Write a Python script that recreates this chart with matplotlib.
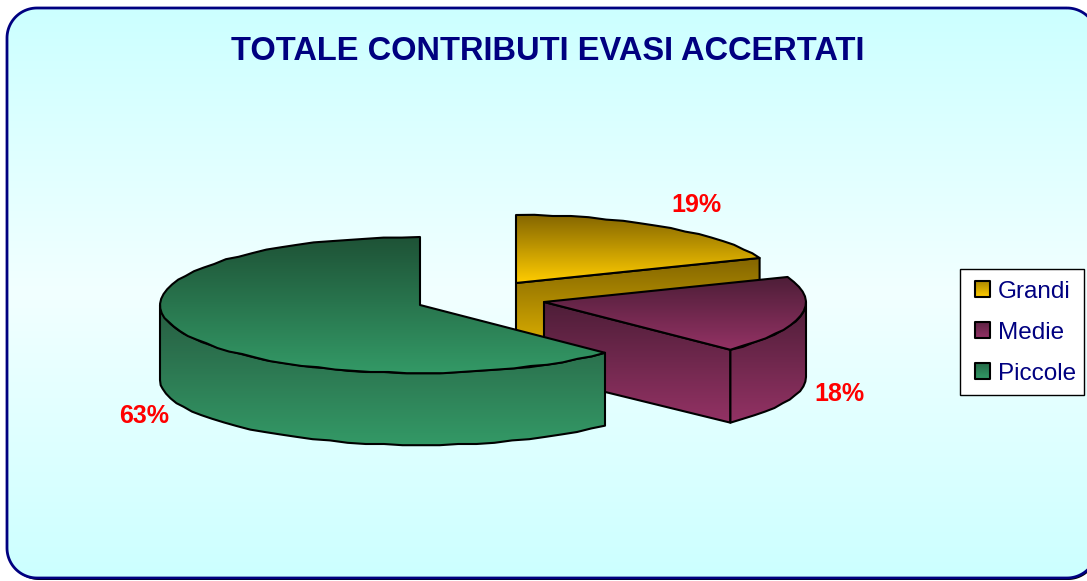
import numpy as np
import matplotlib
matplotlib.use("Agg")
import matplotlib.pyplot as plt
from matplotlib.colors import LinearSegmentedColormap
from matplotlib.patches import Polygon, Patch, Rectangle

TITLE = "TOTALE CONTRIBUTI EVASI ACCERTATI"
categories = ["Grandi", "Medie", "Piccole"]
shares = [19.0, 18.4, 62.6]
labels = ["19%", "18%", "63%"]

W, H = 1087, 581
plt.rcParams['font.family'] = ['Liberation Sans', 'DejaVu Sans']
fig = plt.figure(figsize=(W / 100, H / 100), dpi=100, facecolor="white")
ax = fig.add_axes([0, 0, 1, 1])
ax.set_xlim(0, W)
ax.set_ylim(H, 0)
ax.axis("off")

NAVY = "#000080"


def rounded_rect(x0, y0, x1, y1, r, n=24):
    """Rounded rectangle as a plain outline of straight segments."""
    corners = [(x1 - r, y0 + r, -90, 0), (x1 - r, y1 - r, 0, 90),
               (x0 + r, y1 - r, 90, 180), (x0 + r, y0 + r, 180, 270)]
    pts = []
    for cx, cy, a, b in corners:
        t = np.radians(np.linspace(a, b, n))
        pts.append(np.column_stack([cx + r * np.cos(t), cy + r * np.sin(t)]))
    return np.vstack(pts)


# bottom-right shadow and bottom lip
ax.add_patch(Polygon(rounded_rect(9, 11, 1098, 580, 30), closed=True, fc="black", ec="none", zorder=0))

outline = rounded_rect(7, 8, 1097, 578, 30)
panel = Polygon(outline, closed=True, fc="none", ec=NAVY, lw=2.0, zorder=3)
ax.add_patch(panel)
bg = LinearSegmentedColormap.from_list("bg", ["#CCFFFF", "#F2FFFF", "#CCFFFF"])
im = ax.imshow(np.linspace(0, 1, 256)[:, None], cmap=bg, extent=(7, 1097, 578, 8),
               aspect="auto", zorder=1)
im.set_clip_path(panel)
ax.set_xlim(0, W)
ax.set_ylim(H, 0)


def grad_poly(pts, c_top, c_bottom, z, lw=1.5):
    pts = np.asarray(pts)
    cmap = LinearSegmentedColormap.from_list("g", [c_top, c_bottom])
    x0, x1 = pts[:, 0].min(), pts[:, 0].max()
    y0, y1 = pts[:, 1].min(), pts[:, 1].max()
    poly = Polygon(pts, closed=True, fc="none", ec="black", lw=lw, joinstyle="round", zorder=z + 0.1)
    ax.add_patch(poly)
    i = ax.imshow(np.linspace(0, 1, 128)[:, None], cmap=cmap, extent=(x0, x1, y1, y0),
                  aspect="auto", zorder=z, interpolation="bilinear")
    i.set_clip_path(poly)


def arc(cx, cy, rx, ry, a0, a1, step=4):
    """Angles in degrees, clockwise from 12 o'clock; y is lightly stepped like the coarse source outline."""
    n = max(2, int(abs(a1 - a0) / step) + 1)
    t = np.radians(np.linspace(a0, a1, n))
    y = cy - ry * np.cos(t)
    y[1:-1] = np.round(y[1:-1] / 1.2) * 1.2
    return np.column_stack([cx + rx * np.sin(t), y])


RXS = [262, 262, 260]
RY = 68
DEPTH, RY_B = 75, 65
centers = [(516, 283), (544, 302), (420, 305)]
top_cols = [("#836500", "#FFCC00"), ("#4E1E38", "#933264"), ("#1E5236", "#339966")]
wall_cols = [("#836500", "#E6B800"), ("#4E1E38", "#933264"), ("#275C41", "#339966")]

edges = np.concatenate([[0], np.cumsum(shares)]) * 3.6
for k in range(3):
    cx, cy = centers[k]
    RX = RXS[k]
    a0, a1 = edges[k], edges[k + 1]
    z = 10 + k * 3
    if k < 2:
        # radial front wall at the trailing edge
        e_top = arc(cx, cy, RX, RY, a1, a1, 1)[0]
        e_bot = arc(cx, cy + DEPTH, RX, RY_B, a1, a1, 1)[0]
        grad_poly([(cx, cy), e_top, e_bot, (cx, cy + DEPTH)], *wall_cols[k], z)
    # outer wall, visible part of the rim only
    v0, v1 = max(a0, 90), min(a1, 270)
    if v1 > v0:
        t = arc(cx, cy, RX, RY, v0, v1)
        b = arc(cx, cy + DEPTH, RX, RY_B, v0, v1)
        grad_poly(np.vstack([t, b[::-1]]), *wall_cols[k], z + 1)
    # top face
    grad_poly(np.vstack([[(cx, cy)], arc(cx, cy, RX, RY, a0, a1)]), *top_cols[k], z + 2)

# value labels
label_pos = [(696, 205), (839, 394), (144, 416)]
for s, (x, y) in zip(labels, label_pos):
    ax.text(x, y, s, color="#FF0000", fontsize=18, fontweight="bold",
            ha="center", va="center", zorder=30)

ax.text(547.5, 51, TITLE, color=NAVY, fontsize=23.5, fontweight="bold",
        ha="center", va="center", zorder=30)

# legend: frame drawn separately so its paddings can differ per side
ax.add_patch(Rectangle((960, 269), 124, 126, fc="white", ec="black", lw=1.0, zorder=29))
handles = [Patch(fc="none", ec="none") for _ in categories]
leg = ax.legend(handles, categories, loc="upper left", bbox_to_anchor=(975, 280.5),
                bbox_transform=ax.transData, borderaxespad=0, borderpad=0, frameon=False,
                labelcolor=NAVY, fontsize=17.5, handlelength=0.62, handleheight=0.62,
                handletextpad=0.33, labelspacing=0.79)
leg.set_zorder(30)

fig.canvas.draw()
inv = ax.transData.inverted()
for h, (c0, c1) in zip(leg.legend_handles, [("#AD8800", "#FFCC00"), ("#5E2345", "#933264"), ("#246B48", "#339966")]):
    bb = h.get_window_extent().transformed(inv)
    x0, x1 = sorted((bb.x0, bb.x1))
    y0, y1 = sorted((bb.y0, bb.y1))
    grad_poly([(x0, y0), (x1, y0), (x1, y1), (x0, y1)], c0, c1, 31)

fig.savefig("out.png", dpi=100, facecolor="white")
